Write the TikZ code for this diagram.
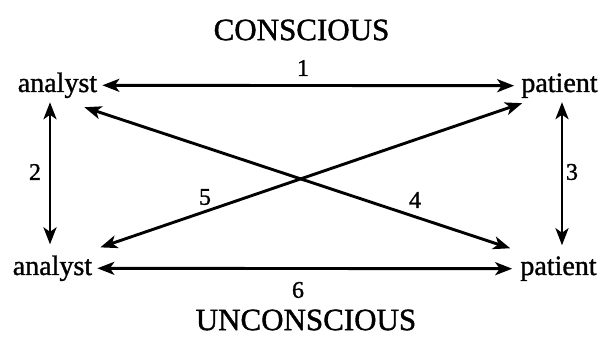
\documentclass[tikz,border=0pt]{standalone}
\usepackage{fontspec}
\setmainfont{Liberation Serif}
\newfontfamily\heavy[FakeBold=1.2]{Liberation Serif}
\usetikzlibrary{arrows.meta}
\tikzset{
  word/.style={inner sep=0pt, anchor=base, font=\heavy\fontsize{28}{30}\selectfont},
  title/.style={inner sep=0pt, font=\heavy\fontsize{31}{33}\selectfont},
  num/.style={inner sep=0pt, font=\heavy\fontsize{24}{26}\selectfont},
  dbl/.style={line width=2.9pt, {Stealth[length=17pt,width=13pt,inset=4.5pt]}-{Stealth[length=17pt,width=13pt,inset=4.5pt]}},
}
\begin{document}
\begin{tikzpicture}[x=1pt,y=-1pt]
\useasboundingbox (0,0) rectangle (603,339);
% words
\node[word] (aT) at (57.5,92) {analyst};
\node[word] (pT) at (559.5,92) {patient};
\node[word] (aB) at (52.5,275) {analyst};
\node[word] (pB) at (558.5,275) {patient};
\node[title] (con) at (301.5,30) {CONSCIOUS};
\node[title] (uncon) at (306,320) {UNCONSCIOUS};
% arrows
\draw[dbl] ([xshift=5pt]aT.east) -- ([xshift=-7pt]pT.west);
\draw[dbl] ([xshift=5pt]aB.east) -- ([xshift=-8pt]pB.west);
\draw[dbl] ([shift={(-7.5pt,-4pt)}]aT.south) -- ([shift={(-2.5pt,11pt)}]aB.north);
\draw[dbl] ([shift={(2.5pt,-4pt)}]pT.south) -- ([shift={(3.5pt,11pt)}]pB.north);
\draw[dbl] ([shift={(-13pt,-9pt)}]aT.south east) -- ([shift={(-10pt,8pt)}]pB.north west);
\draw[dbl] ([shift={(8pt,8pt)}]aB.north east) -- ([shift={(1pt,-5pt)}]pT.south west);
% labels
\node[num] (n1) at (303,68) {1};
\node[num] (n2) at (35,172) {2};
\node[num] (n3) at (572,172) {3};
\node[num] (n4) at (415,200) {4};
\node[num] (n5) at (205,197) {5};
\node[num] (n6) at (298,290) {6};
\end{tikzpicture}
\end{document}
